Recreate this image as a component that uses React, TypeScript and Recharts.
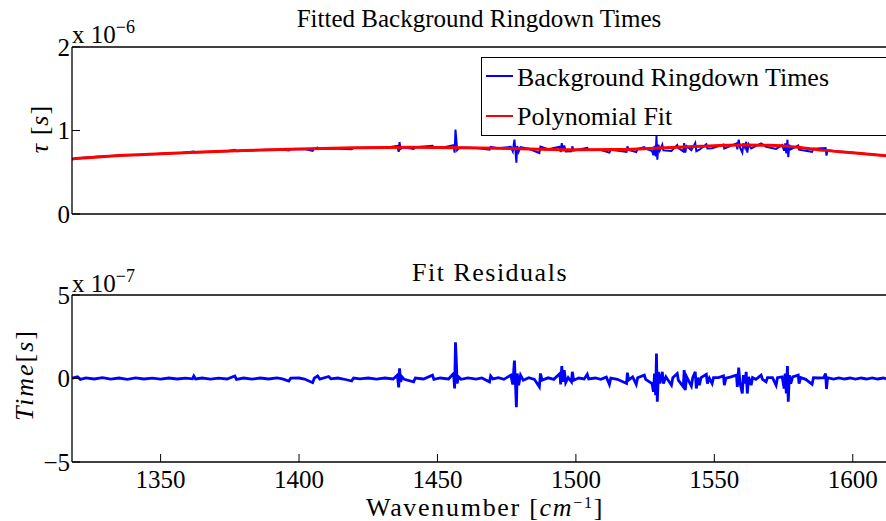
import React from 'react';
import { LineChart, Line, XAxis, YAxis, Legend } from 'recharts';

const FONT = '"Liberation Serif", "Times New Roman", serif';

const X_DOMAIN: [number, number] = [1318, 1612];
const X_TICKS = [1350, 1400, 1450, 1500, 1550, 1600];
const TOP_Y_TICKS = [0, 1, 2];
const BOTTOM_Y_TICKS = [-5, 0, 5];

// Polynomial fit (units of 1e-6 s)
const fitWavenumbers = [1318, 1325, 1335, 1350, 1365, 1380, 1400, 1420, 1440, 1460, 1480, 1500, 1515, 1530, 1545, 1560, 1570, 1580, 1590, 1600, 1612];
const fitValues = [0.66, 0.678, 0.7, 0.722, 0.742, 0.76, 0.778, 0.792, 0.799, 0.793, 0.782, 0.768, 0.772, 0.79, 0.812, 0.826, 0.822, 0.8, 0.762, 0.733, 0.698];

// Background ringdown times (units of 1e-6 s)
const tauWavenumbers = [
  1318, 1322, 1328, 1334, 1340, 1346, 1352, 1358, 1362, 1362.6, 1368, 1374, 1376.8, 1377.4, 1382, 1388, 1394, 1396.3, 1397, 1402,
  1404.9, 1405.5, 1406.7, 1407.5, 1412, 1419, 1419.7, 1426, 1432, 1435.5, 1436, 1436.3, 1436.7, 1437.5, 1441.4, 1442, 1448.2, 1448.7, 1452, 1455.8,
  1456.2, 1456.5, 1456.8, 1457.1, 1458, 1464, 1468.8, 1469.2, 1472, 1476.5, 1477.2, 1477.8, 1478.2, 1478.5, 1478.8, 1479.3, 1480, 1483, 1486.8, 1487.2,
  1490, 1494.2, 1494.5, 1494.9, 1495.3, 1495.8, 1496.3, 1498.4, 1498.7, 1499.2, 1504.1, 1504.6, 1509, 1512.1, 1512.6, 1518.3, 1518.6, 1519, 1521.8, 1522.3,
  1524.7, 1525.2, 1527.5, 1528, 1528.4, 1528.8, 1529.1, 1529.4, 1529.8, 1530.3, 1531.2, 1531.6, 1534.5, 1536.6, 1537, 1538.8, 1539.1, 1539.5, 1540, 1541.7,
  1543.1, 1543.5, 1544.6, 1547.1, 1547.5, 1549.2, 1553.3, 1553.6, 1558, 1558.3, 1558.8, 1559.3, 1560.1, 1560.5, 1561.1, 1561.5, 1561.9, 1562.4, 1563.3, 1566.9,
  1568.7, 1572.3, 1574.5, 1575.2, 1575.6, 1576, 1576.4, 1576.7, 1577.1, 1577.6, 1580.3, 1580.6, 1585.3, 1585.8, 1590.2, 1590.5, 1590.9, 1596, 1602, 1608, 1612,
];
const tauValues = [
  0.655, 0.675, 0.688, 0.698, 0.706, 0.716, 0.724, 0.733, 0.748, 0.736, 0.746, 0.752, 0.77, 0.753, 0.76, 0.768, 0.773, 0.76, 0.774, 0.779,
  0.755, 0.782, 0.795, 0.78, 0.785, 0.775, 0.791, 0.795, 0.796, 0.815, 0.745, 0.86, 0.78, 0.798, 0.78, 0.799, 0.818, 0.797, 0.798, 0.825,
  0.735, 1.012, 0.9, 0.765, 0.795, 0.79, 0.77, 0.805, 0.787, 0.805, 0.75, 0.89, 0.745, 0.615, 0.815, 0.745, 0.8, 0.781, 0.73, 0.808,
  0.776, 0.805, 0.74, 0.848, 0.752, 0.822, 0.748, 0.75, 0.81, 0.76, 0.792, 0.767, 0.765, 0.735, 0.77, 0.745, 0.81, 0.768, 0.742, 0.78,
  0.8, 0.782, 0.755, 0.705, 0.815, 0.69, 0.94, 0.65, 0.83, 0.76, 0.83, 0.762, 0.755, 0.826, 0.79, 0.75, 0.85, 0.735, 0.812, 0.765,
  0.852, 0.752, 0.77, 0.836, 0.785, 0.788, 0.833, 0.782, 0.845, 0.775, 0.89, 0.795, 0.735, 0.845, 0.795, 0.865, 0.735, 0.835, 0.785, 0.845,
  0.805, 0.78, 0.825, 0.76, 0.845, 0.725, 0.89, 0.68, 0.83, 0.775, 0.82, 0.77, 0.745, 0.782, 0.79, 0.7, 0.762, 0.745, 0.728, 0.71, 0.697,
];

// Fit residuals (units of 1e-7 s)
const residualWavenumbers = [
  1318, 1320, 1321, 1323, 1326, 1329, 1332, 1335, 1338, 1341, 1344, 1347, 1350, 1353, 1356, 1359, 1361.5, 1362, 1362.6, 1365,
  1368, 1371, 1374, 1376.8, 1377.4, 1380, 1383, 1386, 1389, 1392, 1394, 1396.3, 1397, 1400, 1402, 1404.9, 1405.5, 1406.7, 1407.5, 1410.7,
  1411.5, 1414, 1416, 1419, 1419.7, 1422, 1425, 1428, 1431, 1434, 1435.5, 1436, 1436.3, 1436.7, 1437.2, 1438, 1441.4, 1442, 1445, 1448.2,
  1448.7, 1451, 1454, 1455.8, 1456.2, 1456.5, 1456.8, 1457.1, 1457.6, 1458.5, 1461, 1464, 1466, 1468.8, 1469.2, 1470, 1472, 1474, 1476.5, 1477.2,
  1477.8, 1478.2, 1478.5, 1478.8, 1479.3, 1480, 1481, 1483, 1485, 1486.8, 1487.2, 1487.8, 1490, 1492, 1494.2, 1494.5, 1494.9, 1495.3, 1495.8, 1496.3,
  1497.2, 1498.4, 1498.7, 1499.2, 1501, 1503, 1504.1, 1504.6, 1507, 1509, 1511, 1512.1, 1512.6, 1515, 1518.3, 1518.6, 1519, 1520.5, 1521.8, 1522.3,
  1524.7, 1525.2, 1527.5, 1528, 1528.4, 1528.8, 1529.1, 1529.4, 1529.8, 1530.3, 1531.2, 1531.6, 1532.5, 1534.5, 1535, 1536.6, 1537, 1538.8, 1539.1, 1539.5,
  1540, 1541.7, 1542.2, 1543.1, 1543.5, 1544, 1544.6, 1545.2, 1547.1, 1547.5, 1548.2, 1549.2, 1549.7, 1551.5, 1553.3, 1553.6, 1554.2, 1556, 1558, 1558.3,
  1558.8, 1559.3, 1560.1, 1560.5, 1561.1, 1561.5, 1561.9, 1562.4, 1563.3, 1563.8, 1565, 1566.9, 1567.4, 1568.7, 1569.2, 1571, 1572.3, 1572.8, 1574.5, 1575.2,
  1575.6, 1576, 1576.4, 1576.7, 1577.1, 1577.6, 1578.3, 1580.3, 1580.6, 1581.2, 1583, 1585.3, 1585.8, 1587.5, 1589.5, 1590.2, 1590.5, 1590.9, 1593, 1595,
  1597, 1599, 1601, 1603, 1605, 1607, 1609, 1611, 1612,
];
const residualValues = [
  0.02, 0.1, -0.05, 0.04, -0.03, 0.05, -0.04, 0.03, -0.05, 0.04, -0.03, 0.02, -0.04, 0.03, -0.03, 0.02, -0.02, 0.15, -0.03, 0.03,
  -0.04, 0.02, -0.03, 0.15, -0.05, 0.03, -0.04, 0.03, -0.03, 0.04, -0.02, -0.15, 0.02, 0.03, -0.03, -0.25, 0.02, 0.15, -0.04, 0.12,
  -0.02, 0.03, -0.03, -0.15, 0.03, -0.02, 0.03, -0.04, 0.03, -0.03, 0.2, -0.53, 0.61, -0.2, 0.1, -0.05, -0.2, 0.03, -0.03, 0.2,
  -0.05, 0.03, -0.03, 0.3, -0.59, 2.17, 1.1, -0.3, 0.1, -0.05, 0.04, -0.04, 0.03, -0.2, 0.15, -0.02, 0.05, -0.05, 0.2, -0.35,
  1.07, -0.4, -1.72, 0.3, -0.4, 0.2, -0.1, 0.05, -0.05, -0.5, 0.3, -0.1, 0.04, -0.05, 0.3, -0.35, 0.75, -0.2, 0.5, -0.25,
  0.05, -0.2, 0.4, -0.1, 0.03, -0.03, 0.25, -0.03, 0.03, -0.05, 0.08, -0.35, 0.02, -0.05, -0.3, 0.35, -0.1, 0.1, -0.35, 0.05,
  0.2, -0.05, -0.3, -0.8, 0.3, -1.0, 1.5, -1.39, 0.4, -0.3, 0.4, -0.3, 0.1, -0.4, 0.05, 0.3, -0.1, -0.5, 0.5, -0.7,
  0.1, -0.45, 0.05, 0.4, -0.6, 0.05, -0.4, 0.05, 0.25, -0.3, 0.02, -0.3, 0.05, 0.05, 0.15, -0.4, 0.02, 0.1, 0.2, -0.5,
  0.65, -0.3, -0.9, 0.2, -0.3, 0.4, -0.9, 0.1, -0.4, 0.05, -0.05, 0.2, -0.05, -0.2, 0.05, 0.05, -0.4, 0.05, 0.1, -0.6,
  0.3, -0.9, 0.75, -1.39, 0.2, -0.3, 0.1, 0.2, -0.3, 0.05, -0.05, -0.35, 0.05, 0.03, 0.05, 0.3, -0.63, 0.05, -0.04, 0.04,
  -0.03, 0.03, -0.04, 0.03, -0.03, 0.04, -0.03, 0.03, -0.02,
];

const toRows = (xs: number[], ys: number[]) => xs.map((wn, i) => ({ wn, v: ys[i] }));
const fitRows = toRows(fitWavenumbers, fitValues);
const tauRows = toRows(tauWavenumbers, tauValues);
const residualRows = toRows(residualWavenumbers, residualValues);

const tickStyle = { fill: '#000', fontSize: 25, fontFamily: FONT };
const minusFmt = (v: number) => String(v).replace('-', '\u2212');
const axisLineStyle = { stroke: '#000', strokeWidth: 1.3 };

const LegendBox = (props: any) => {
  const payload = props.payload || [];
  return (
    <svg width={420} height={79} style={{ display: 'block' }}>
      <rect x={0.5} y={0.5} width={440} height={78} fill="#fff" stroke="#000" strokeWidth={1} />
      {payload.map((p: any, i: number) => (
        <g key={i}>
          <line x1={5} x2={32} y1={19 + i * 40} y2={19 + i * 40} stroke={p.color} strokeWidth={2} />
          <text x={36} y={29 + i * 39} fontFamily={FONT} fontSize={26} fill="#000">{p.value}</text>
        </g>
      ))}
    </svg>
  );
};

export default function App() {
  return (
    <div style={{ position: 'fixed', left: 0, top: 0, width: 886, height: 521, overflow: 'hidden', background: '#fff' }}>
      <div style={{ position: 'absolute', left: 0, top: 0 }}>
        <LineChart width={886} height={240} margin={{ top: 46, right: 0, bottom: 25, left: 0 }}>
          <XAxis xAxisId="b" dataKey="wn" type="number" domain={X_DOMAIN} allowDataOverflow ticks={X_TICKS}
            height={1} tickSize={-8} tick={false} stroke="#000" axisLine={axisLineStyle} />
          <XAxis xAxisId="t" orientation="top" dataKey="wn" type="number" domain={X_DOMAIN} allowDataOverflow ticks={X_TICKS}
            height={1} tickSize={-8} tick={false} stroke="#000" axisLine={axisLineStyle} />
          <YAxis type="number" domain={[0, 2]} ticks={TOP_Y_TICKS} width={72} tickSize={-8} tickMargin={10}
            tick={tickStyle} stroke="#000" axisLine={axisLineStyle} allowDataOverflow />
          <Legend layout="vertical" align="center" verticalAlign="middle"
            wrapperStyle={{ position: 'absolute', left: 481, top: 57, width: 420, height: 79 }}
            content={(p: any) => <LegendBox {...p} />} />
          <Line xAxisId="b" data={tauRows} dataKey="v" name="Background Ringdown Times" stroke="#0000ff" strokeWidth={2}
            dot={false} isAnimationActive={false} type="linear" />
          <Line xAxisId="b" data={fitRows} dataKey="v" name="Polynomial Fit" stroke="#ff0000" strokeWidth={3}
            dot={false} isAnimationActive={false} type="monotone" />
        </LineChart>
      </div>
      <div style={{ position: 'absolute', left: 0, top: 260 }}>
        <LineChart width={886} height={260} margin={{ top: 34, right: 0, bottom: 57, left: 0 }}>
          <XAxis xAxisId="b" dataKey="wn" type="number" domain={X_DOMAIN} allowDataOverflow ticks={X_TICKS}
            height={1} tickSize={-8} tickMargin={16} tick={tickStyle} stroke="#000" axisLine={axisLineStyle} />
          <XAxis xAxisId="t" orientation="top" dataKey="wn" type="number" domain={X_DOMAIN} allowDataOverflow ticks={X_TICKS}
            height={1} tickSize={-8} tick={false} stroke="#000" axisLine={axisLineStyle} />
          <YAxis type="number" domain={[-5, 5]} ticks={BOTTOM_Y_TICKS} width={72} tickSize={-8} tickMargin={10}
            tick={tickStyle} tickFormatter={minusFmt} stroke="#000" axisLine={axisLineStyle} allowDataOverflow />
          <Line xAxisId="b" data={residualRows} dataKey="v" name="Fit Residuals" stroke="#0000ff" strokeWidth={2.8}
            dot={false} isAnimationActive={false} type="linear" />
        </LineChart>
      </div>
      <svg width={886} height={521} style={{ position: 'absolute', left: 0, top: 0, pointerEvents: 'none' }} fontFamily={FONT} fill="#000">
        <text x={479} y={27} textAnchor="middle" fontSize={25}>Fitted Background Ringdown Times</text>
        <text x={72} y={43} fontSize={25}>x 10<tspan dy={-10} fontSize={18}>{'\u22126'}</tspan></text>
        <text x={48} y={129} textAnchor="middle" fontSize={26} letterSpacing={1} transform="rotate(-90 48 129)">
          <tspan fontStyle="italic">τ</tspan> [<tspan fontStyle="italic">s</tspan>]
        </text>
        <text x={490} y={281} textAnchor="middle" fontSize={26} letterSpacing={1.5}>Fit Residuals</text>
        <text x={72} y={292} fontSize={25}>x 10<tspan dy={-10} fontSize={18}>{'\u22127'}</tspan></text>
        <text x={33} y={375} textAnchor="middle" fontSize={26} letterSpacing={2} transform="rotate(-90 33 375)">
          <tspan fontStyle="italic">Time</tspan>[<tspan fontStyle="italic">s</tspan>]
        </text>
        <text x={485} y={516} textAnchor="middle" fontSize={26} letterSpacing={1.7}>
          Wavenumber [<tspan fontStyle="italic">cm</tspan><tspan dy={-8} fontSize={16}>{'\u22121'}</tspan><tspan dy={8}>]</tspan>
        </text>
      </svg>
    </div>
  );
}
